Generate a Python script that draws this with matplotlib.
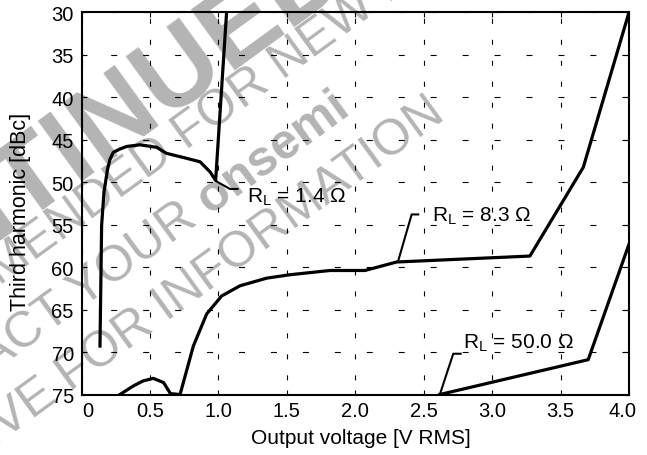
import math
import matplotlib
matplotlib.use('Agg')
import matplotlib.pyplot as plt
import matplotlib.transforms as mtransforms

plt.rcParams['font.family'] = ['Liberation Sans', 'DejaVu Sans']
plt.rcParams['mathtext.fontset'] = 'custom'
plt.rcParams['mathtext.rm'] = 'Liberation Sans'
plt.rcParams['lines.scale_dashes'] = False

# ---- data ----
v_14 = [0.135, 0.147, 0.164, 0.19, 0.208, 0.232, 0.28, 0.33, 0.427, 0.55, 0.62, 0.77, 0.866, 0.94, 0.98, 1.06]
thd_14 = [69.3, 55.1, 51.2, 48.5, 47.3, 46.5, 46.1, 45.8, 45.6, 45.9, 46.6, 47.2, 47.6, 48.8, 49.8, 30.0]

v_83 = [0.25, 0.281, 0.378, 0.45, 0.524, 0.6, 0.65, 0.72, 0.817, 0.915, 1.024, 1.158, 1.353, 1.523, 1.815, 2.071, 2.302, 3.276, 3.666, 4.0]
thd_83 = [75.3, 75.0, 74.0, 73.4, 73.1, 73.6, 74.9, 75.0, 69.3, 65.5, 63.4, 62.2, 61.3, 60.9, 60.4, 60.4, 59.4, 58.7, 48.25, 30.0]

v_50 = [2.618, 3.702, 4.0]
thd_50 = [75.0, 70.9, 57.3]

labels = ['R$_\\mathregular{L}$ = 1.4 \u03a9', 'R$_\\mathregular{L}$ = 8.3 \u03a9', 'R$_\\mathregular{L}$ = 50.0 \u03a9']
label_x = [1.207, 2.558, 2.789]
label_y = [52.3, 54.5, 69.45]
leader_x = [[0.985, 1.085, 1.14], [2.315, 2.412, 2.46], [2.618, 2.716, 2.77]]
leader_y = [[49.9, 50.8, 50.8], [59.2, 53.8, 53.8], [75.0, 70.2, 70.2]]

x_ticks = [0, 0.5, 1.0, 1.5, 2.0, 2.5, 3.0, 3.5, 4.0]
x_ticklabels = ['0', '0.5', '1.0', '1.5', '2.0', '2.5', '3.0', '3.5', '4.0']
y_ticks = [30, 35, 40, 45, 50, 55, 60, 65, 70, 75]

# ---- figure ----
W, H = 647, 456
fig = plt.figure(figsize=(W / 100, H / 100), dpi=100)
ax = fig.add_axes([81.5 / W, 1 - 395.5 / H, 547.5 / W, 382.2 / H])
ax.set_facecolor('none')

# watermark
def px(x, y):
    return (x / W, 1 - y / H)

wm = dict(color='#b4b4b4', rotation=36, rotation_mode='anchor', va='baseline', zorder=-1)
fig.text(*px(-324, 471), 'DISCONTINUED', ha='left', fontsize=79, fontweight='bold', **wm)
fig.text(*px(-247, 465), 'NOT RECOMMENDED FOR NEW DESIGN', ha='left', fontsize=36, **wm)
fig.text(*px(210, 215), 'onsemi', ha='left', fontsize=36, fontweight='bold', **wm)
fig.text(*px(198.7, 223.2), 'CONTACT YOUR', ha='right', fontsize=36, **wm)
fig.text(*px(447, 118), 'REPRESENTATIVE FOR INFORMATION', ha='right', fontsize=36, **wm)

ax.set_xlim(0, 4)
ax.set_ylim(75, 30)

lw_curve = 2.3
ax.plot(v_14, thd_14, color='k', lw=lw_curve, solid_joinstyle='round', zorder=3)
ax.plot(v_83, thd_83, color='k', lw=lw_curve, solid_joinstyle='round', zorder=3)
ax.plot(v_50, thd_50, color='k', lw=lw_curve, solid_joinstyle='round', zorder=3)

for lx, ly, t, tx, ty in zip(leader_x, leader_y, labels, label_x, label_y):
    ax.plot(lx, ly, color='k', lw=1.5, zorder=3)
    ax.text(tx, ty, t, fontsize=15, ha='left', va='baseline', zorder=4)

ax.set_xticks(x_ticks)
ax.set_xticklabels(x_ticklabels)
ax.set_yticks(y_ticks)
ax.tick_params(direction='in', length=3.6, width=0.8, top=True, right=True,
               labelsize=14.5, colors='k')
ax.tick_params(axis='x', pad=4.7)
ax.tick_params(axis='y', pad=5.5)

# shift end labels inward slightly, as in the reference
xt = ax.get_xticklabels()
xt[0].set_transform(xt[0].get_transform() + mtransforms.ScaledTranslation(6.5 / 100, 0, fig.dpi_scale_trans))
xt[-1].set_transform(xt[-1].get_transform() + mtransforms.ScaledTranslation(-6.5 / 100, 0, fig.dpi_scale_trans))

ax.xaxis.grid(True, color='k', lw=0.8, linestyle=(4.2, (3.6, 11.5)))
ax.yaxis.grid(True, color='k', lw=0.8, linestyle=(2.3, (4.3, 18.7)))

for s in ax.spines.values():
    s.set_linewidth(1.5)
    s.set_zorder(5)

ax.set_xlabel('Output voltage [V RMS]', fontsize=15)
ax.xaxis.set_label_coords(0.5105, -0.0877)
ax.set_ylabel('Third harmonic [dBc]', fontsize=15.5)
ax.yaxis.label.set_va('center')
ax.yaxis.set_label_coords(-0.1106, 0.48)

fig.savefig('out.png', dpi=100)
